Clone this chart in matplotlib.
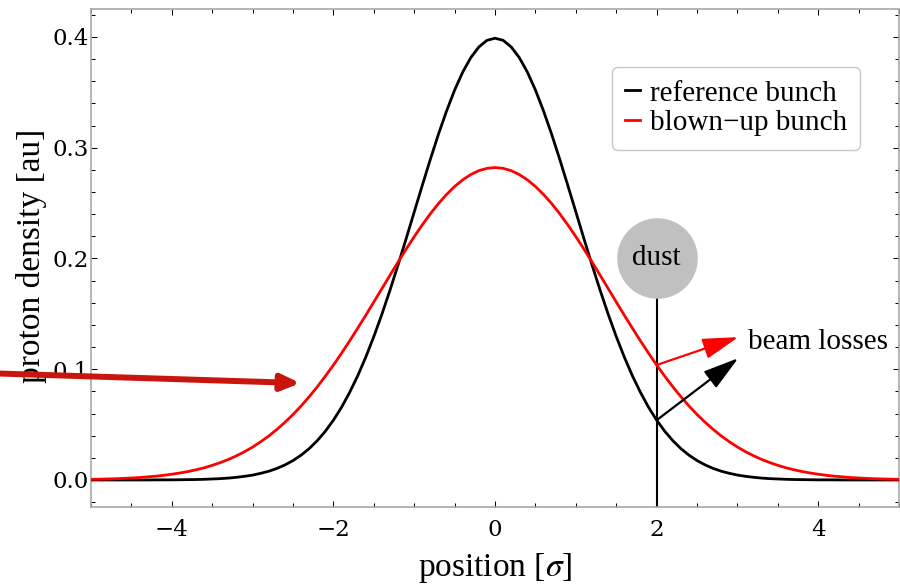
import numpy as np
import matplotlib
matplotlib.use('Agg')
import matplotlib.pyplot as plt
import matplotlib.patheffects as pe
from matplotlib.ticker import MultipleLocator

# positions in units of sigma, sampled every 0.1
position = np.round(np.arange(-5, 5.0001, 0.1), 1)

# values, from -5 to 5
reference = [
    0.0000, 0.0000, 0.0000, 0.0000, 0.0000, 0.0000, 0.0000, 0.0000, 0.0001, 0.0001,
    0.0001, 0.0002, 0.0003, 0.0004, 0.0006, 0.0009, 0.0012, 0.0017, 0.0024, 0.0033,
    0.0044, 0.0060, 0.0079, 0.0104, 0.0136, 0.0175, 0.0224, 0.0283, 0.0355, 0.0440,
    0.0540, 0.0656, 0.0790, 0.0940, 0.1109, 0.1295, 0.1497, 0.1714, 0.1942, 0.2179,
    0.2420, 0.2661, 0.2897, 0.3123, 0.3332, 0.3521, 0.3683, 0.3814, 0.3910, 0.3970,
    0.3989,
    0.3970, 0.3910, 0.3814, 0.3683, 0.3521, 0.3332, 0.3123, 0.2897, 0.2661, 0.2420,
    0.2179, 0.1942, 0.1714, 0.1497, 0.1295, 0.1109, 0.0940, 0.0790, 0.0656, 0.0540,
    0.0440, 0.0355, 0.0283, 0.0224, 0.0175, 0.0136, 0.0104, 0.0079, 0.0060, 0.0044,
    0.0033, 0.0024, 0.0017, 0.0012, 0.0009, 0.0006, 0.0004, 0.0003, 0.0002, 0.0001,
    0.0001, 0.0001, 0.0000, 0.0000, 0.0000, 0.0000, 0.0000, 0.0000, 0.0000, 0.0000]
blown_up = [
    0.0005, 0.0007, 0.0009, 0.0011, 0.0014, 0.0018, 0.0022, 0.0028, 0.0034, 0.0042,
    0.0052, 0.0063, 0.0076, 0.0092, 0.0110, 0.0132, 0.0157, 0.0185, 0.0218, 0.0255,
    0.0297, 0.0345, 0.0397, 0.0456, 0.0521, 0.0591, 0.0668, 0.0752, 0.0841, 0.0937,
    0.1038, 0.1144, 0.1255, 0.1370, 0.1487, 0.1607, 0.1728, 0.1849, 0.1968, 0.2085,
    0.2197, 0.2304, 0.2404, 0.2496, 0.2578, 0.2650, 0.2710, 0.2758, 0.2793, 0.2814,
    0.2821,
    0.2814, 0.2793, 0.2758, 0.2710, 0.2650, 0.2578, 0.2496, 0.2404, 0.2304, 0.2197,
    0.2085, 0.1968, 0.1849, 0.1728, 0.1607, 0.1487, 0.1370, 0.1255, 0.1144, 0.1038,
    0.0937, 0.0841, 0.0752, 0.0668, 0.0591, 0.0521, 0.0456, 0.0397, 0.0345, 0.0297,
    0.0255, 0.0218, 0.0185, 0.0157, 0.0132, 0.0110, 0.0092, 0.0076, 0.0063, 0.0052,
    0.0042, 0.0034, 0.0028, 0.0022, 0.0018, 0.0014, 0.0011, 0.0009, 0.0007, 0.0005]

dust_x = 2.0
dust_y = 0.2
loss_tip_red = (3.01, 0.129)
loss_tip_black = (3.01, 0.110)
losses_label = (3.13, 0.125)
pointer_tip = (-2.41, 0.0875)

plt.rcParams['font.family'] = ['Liberation Serif', 'DejaVu Serif']
plt.rcParams['mathtext.fontset'] = 'stix'

fig = plt.figure(figsize=(9, 5.87), dpi=100)
ax = fig.add_axes([0.1011, 0.1363, 0.8979, 0.8484])

ymin, ymax = -0.0244, 0.4253
ax.plot(position, reference, color='black', lw=2.0, label='reference bunch', zorder=3)
ax.plot(position, blown_up, color='red', lw=2.0, label='blown\u2212up bunch', zorder=3)
ax.set_xlim(-5, 5)
ax.set_ylim(ymin, ymax)

ax.xaxis.set_major_locator(MultipleLocator(2))
ax.xaxis.set_minor_locator(MultipleLocator(0.5))
ax.yaxis.set_major_locator(MultipleLocator(0.1))
ax.yaxis.set_minor_locator(MultipleLocator(0.02))
ax.tick_params(which='both', direction='in', top=True, right=True, color='black', width=0.75)
ax.tick_params(which='major', length=4.3)
ax.tick_params(which='minor', length=2.9)
for lab in ax.get_xticklabels() + ax.get_yticklabels():
    lab.set_fontfamily('DejaVu Serif')
    lab.set_fontsize(16.5)
ax.tick_params(axis='x', pad=8.5)
ax.tick_params(axis='y', pad=1.5)
for s in ax.spines.values():
    s.set_color('#a8a8a8')
    s.set_linewidth(1.2)

ax.set_xlabel(r'position [$\sigma$]', fontsize=24)
ax.set_ylabel('proton density [au]', fontsize=24)
ax.xaxis.set_label_coords(0.5, -0.088)
ax.yaxis.set_label_coords(-0.054, 0.505)

# dust grain and its position
i2 = list(position).index(dust_x)
ax.vlines(dust_x, ymin, dust_y, color='black', lw=1.5, zorder=2)
ax.plot([dust_x], [dust_y], 'o', ms=58, color='#c0c0c0', mec='none', zorder=4)
ax.text(dust_x, dust_y, 'dust', ha='center', va='center', fontsize=21, zorder=5)

head = '-|>,head_length=1.1,head_width=0.32'
ax.annotate('', xy=loss_tip_red, xytext=(dust_x, blown_up[i2]),
            arrowprops=dict(arrowstyle=head, color='red', lw=1.6, mutation_scale=20,
                            shrinkA=0, shrinkB=0), zorder=5)
ax.annotate('', xy=loss_tip_black, xytext=(dust_x, reference[i2]),
            arrowprops=dict(arrowstyle=head, color='black', lw=1.6, mutation_scale=20,
                            shrinkA=0, shrinkB=0), zorder=5)
ax.text(losses_label[0], losses_label[1], 'beam losses', ha='left', va='center', fontsize=21)

# pointer arrow coming in from the left
arr = ax.annotate('', xy=pointer_tip, xycoords='data', xytext=(-0.02, 0.3646),
                  textcoords='figure fraction', annotation_clip=False,
                  arrowprops=dict(arrowstyle='-|>,head_length=0.55,head_width=0.24',
                                  color='#c8160c', lw=4.3, mutation_scale=20,
                                  shrinkA=0, shrinkB=0), zorder=6)
arr.arrow_patch.set_clip_on(False)
arr.arrow_patch.set_path_effects([pe.SimplePatchShadow(offset=(1.5, -1.5), alpha=0.25), pe.Normal()])

leg = ax.legend(loc='upper right', bbox_to_anchor=(0.952, 0.8835), borderaxespad=0,
                fontsize=21, handlelength=0.5, handletextpad=0.35, borderpad=0.45,
                labelspacing=0.12, fancybox=True, framealpha=1, edgecolor='#c8c8c8')
leg.get_frame().set_linewidth(1.0)

fig.savefig('out.png', dpi=100)
